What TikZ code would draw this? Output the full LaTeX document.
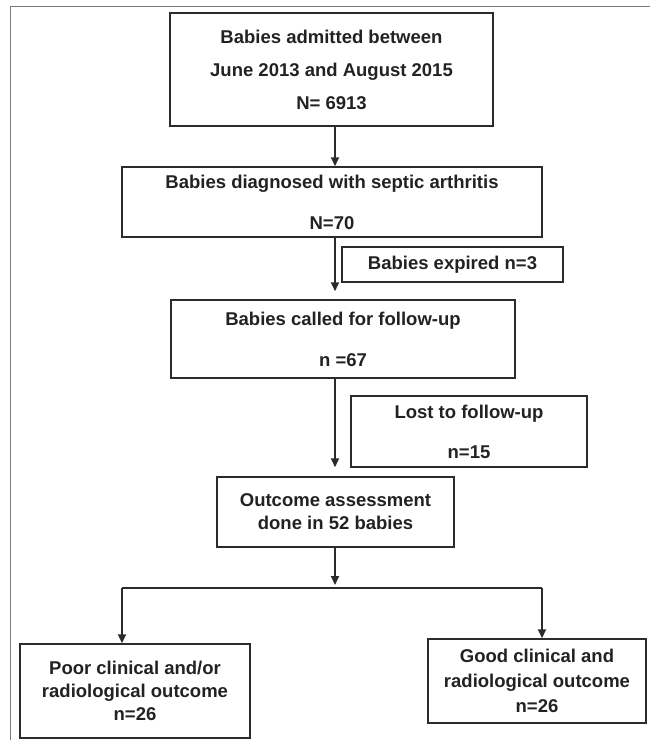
\documentclass[tikz,border=0pt]{standalone}
\usepackage{fontspec}
\setmainfont{Liberation Sans}
\usepackage{tikz}
\usetikzlibrary{positioning}
\usetikzlibrary{arrows.meta}

\definecolor{boxgray}{HTML}{2B2B2B}
\definecolor{txtgray}{HTML}{222222}
\definecolor{framegray}{HTML}{7A7A7A}

\tikzset{
  box/.style={draw=boxgray, line width=1.5pt, align=center, inner sep=0pt,
    text=txtgray, font=\fontsize{18.5}{23}\selectfont\bfseries},
  arr/.style={draw=boxgray, line width=2pt, -{Triangle[length=9pt,width=8pt]}},
  link/.style={draw=boxgray, line width=2pt},
}

\begin{document}
\begin{tikzpicture}[x=1pt,y=-1pt]
      \useasboundingbox (0,0) rectangle (650,740);

      % outer frame
      \draw[framegray, line width=1pt] (10,740) -- (10,6) -- (650,6);

      \node[box, minimum width=323pt, minimum height=113pt] (admit) at (331.5,69.5)
        {Babies admitted between\\[10pt] June 2013 and August 2015\\[10pt] N= 6913};
      \node[box, minimum width=420pt, minimum height=70pt] (septic) at (332,202)
        {Babies diagnosed with septic arthritis\\[18pt] N=70};
      \node[box, minimum width=221pt, minimum height=35pt] (expired) at (452.5,264.5)
        {Babies expired n=3};
      \node[box, minimum width=344pt, minimum height=78pt] (called) at (343,339)
        {Babies called for follow-up\\[18pt] n =67};
      \node[box, minimum width=236pt, minimum height=71pt] (lost) at (469,431.5)
        {Lost to follow-up\\[17pt] n=15};
      \node[box, minimum width=237pt, minimum height=70pt] (assess) at (335.5,512)
        {Outcome assessment\\ done in 52 babies};
      \node[box, minimum width=230pt, minimum height=94pt] (poor) at (135,691)
        {Poor clinical and/or\\ radiological outcome\\ n=26};
      \node[box, minimum width=218pt, minimum height=84pt] (good) at (537,681)
        {Good clinical and\\[2pt] radiological outcome\\[2pt] n=26};

      % main line of arrows
      \coordinate (spine) at (335,0);
      \draw[arr] (admit.south -| spine) -- (septic.north -| spine);
      \draw[arr, shorten >=8pt] (septic.south -| spine) -- (called.north -| spine);
      \draw[arr, shorten >=9pt] (called.south -| spine) -- (assess.north -| spine);

      % split into the two outcomes
      \coordinate (fork) at (335,588);
      \coordinate (forkL) at (122,588);
      \coordinate (forkR) at (542,588);
      \draw[arr, shorten >=3pt] (assess.south -| spine) -- (fork);
      \draw[link] (forkL) -- (forkR);
      \draw[arr] (forkL) -- (forkL |- poor.north);
      \draw[arr] (forkR) -- (forkR |- good.north);

\end{tikzpicture}
\end{document}
